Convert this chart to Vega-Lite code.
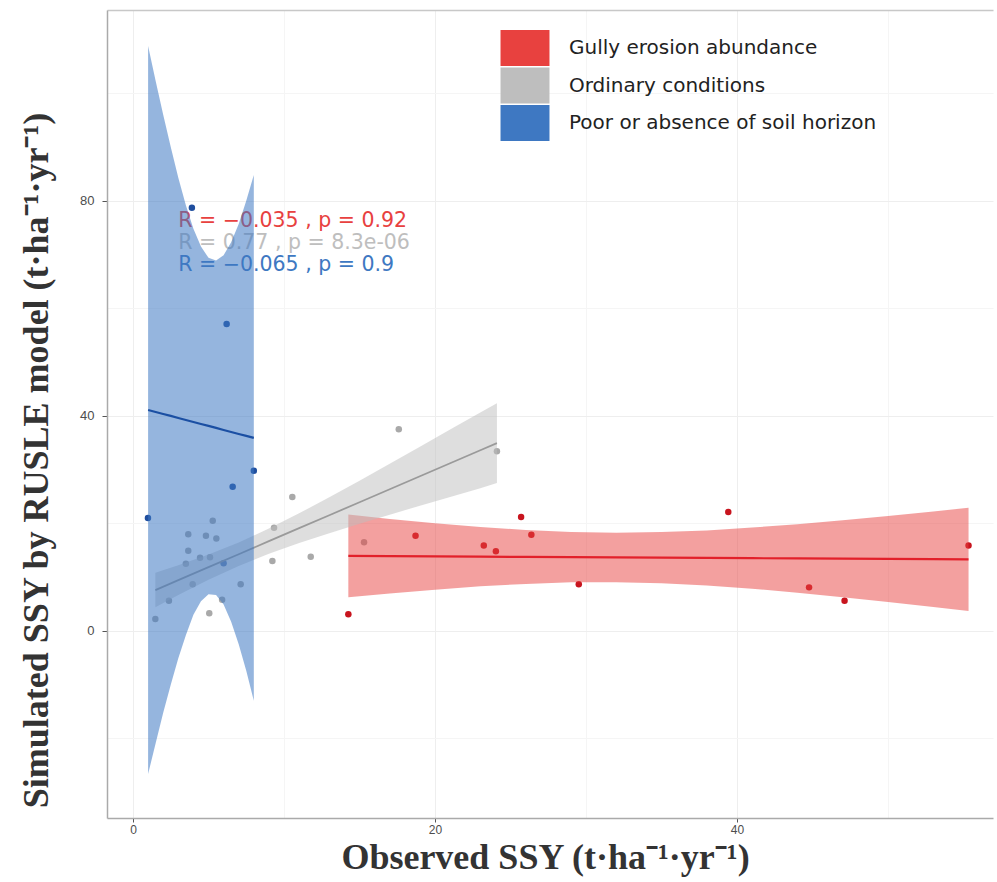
{
  "$schema": "https://vega.github.io/schema/vega-lite/v6.json",
  "width": 886,
  "height": 808,
  "autosize": {"type": "none"},
  "padding": {"left": 107, "top": 10, "right": 4, "bottom": 64},
  "background": "white",
  "config": {"view": {"stroke": null}, "font": "DejaVu Sans"},
  "datasets": {
    "points": [
      {"group": "Gully erosion abundance", "x": 14.26, "y": 3.1},
      {"group": "Gully erosion abundance", "x": 18.71, "y": 17.7},
      {"group": "Gully erosion abundance", "x": 25.7, "y": 21.2},
      {"group": "Gully erosion abundance", "x": 23.23, "y": 15.9},
      {"group": "Gully erosion abundance", "x": 24.03, "y": 14.8},
      {"group": "Gully erosion abundance", "x": 26.38, "y": 17.9},
      {"group": "Gully erosion abundance", "x": 29.52, "y": 8.7},
      {"group": "Gully erosion abundance", "x": 39.42, "y": 22.1},
      {"group": "Gully erosion abundance", "x": 44.77, "y": 8.1},
      {"group": "Gully erosion abundance", "x": 47.12, "y": 5.6},
      {"group": "Gully erosion abundance", "x": 55.33, "y": 15.9},
      {"group": "Ordinary conditions", "x": 17.6, "y": 37.5},
      {"group": "Ordinary conditions", "x": 24.1, "y": 33.4},
      {"group": "Ordinary conditions", "x": 10.55, "y": 24.9},
      {"group": "Ordinary conditions", "x": 9.34, "y": 19.2},
      {"group": "Ordinary conditions", "x": 9.23, "y": 13.0},
      {"group": "Ordinary conditions", "x": 11.77, "y": 13.8},
      {"group": "Ordinary conditions", "x": 15.3, "y": 16.5},
      {"group": "Ordinary conditions", "x": 5.28, "y": 20.5},
      {"group": "Ordinary conditions", "x": 3.66, "y": 18.0},
      {"group": "Ordinary conditions", "x": 4.83, "y": 17.7},
      {"group": "Ordinary conditions", "x": 5.52, "y": 17.2},
      {"group": "Ordinary conditions", "x": 3.66, "y": 14.9},
      {"group": "Ordinary conditions", "x": 4.44, "y": 13.6},
      {"group": "Ordinary conditions", "x": 5.1, "y": 13.7},
      {"group": "Ordinary conditions", "x": 3.5, "y": 12.5},
      {"group": "Ordinary conditions", "x": 3.95, "y": 8.7},
      {"group": "Ordinary conditions", "x": 7.13, "y": 8.7},
      {"group": "Ordinary conditions", "x": 2.38, "y": 5.6},
      {"group": "Ordinary conditions", "x": 1.48, "y": 2.2},
      {"group": "Ordinary conditions", "x": 5.05, "y": 3.3},
      {"group": "Ordinary conditions", "x": 5.9, "y": 5.8},
      {"group": "Poor or absence of soil horizon", "x": 0.99, "y": 21.0},
      {"group": "Poor or absence of soil horizon", "x": 3.9, "y": 78.7},
      {"group": "Poor or absence of soil horizon", "x": 6.2, "y": 57.1},
      {"group": "Poor or absence of soil horizon", "x": 6.6, "y": 26.8},
      {"group": "Poor or absence of soil horizon", "x": 8.0, "y": 29.8},
      {"group": "Poor or absence of soil horizon", "x": 6.0, "y": 12.6}
    ],
    "bands": [
      {"group": "Gully erosion abundance", "x": 14.26, "fit": 13.95, "lo": 6.26, "hi": 21.64},
      {"group": "Gully erosion abundance", "x": 17, "fit": 13.91, "lo": 6.98, "hi": 20.84},
      {"group": "Gully erosion abundance", "x": 20, "fit": 13.86, "lo": 7.68, "hi": 20.04},
      {"group": "Gully erosion abundance", "x": 23, "fit": 13.81, "lo": 8.29, "hi": 19.33},
      {"group": "Gully erosion abundance", "x": 26, "fit": 13.76, "lo": 8.75, "hi": 18.77},
      {"group": "Gully erosion abundance", "x": 29, "fit": 13.72, "lo": 9.03, "hi": 18.41},
      {"group": "Gully erosion abundance", "x": 32, "fit": 13.67, "lo": 9.07, "hi": 18.27},
      {"group": "Gully erosion abundance", "x": 35, "fit": 13.62, "lo": 8.86, "hi": 18.38},
      {"group": "Gully erosion abundance", "x": 38, "fit": 13.57, "lo": 8.44, "hi": 18.7},
      {"group": "Gully erosion abundance", "x": 41, "fit": 13.53, "lo": 7.84, "hi": 19.22},
      {"group": "Gully erosion abundance", "x": 44, "fit": 13.48, "lo": 7.11, "hi": 19.85},
      {"group": "Gully erosion abundance", "x": 47, "fit": 13.43, "lo": 6.28, "hi": 20.58},
      {"group": "Gully erosion abundance", "x": 50, "fit": 13.39, "lo": 5.4, "hi": 21.38},
      {"group": "Gully erosion abundance", "x": 53, "fit": 13.34, "lo": 4.45, "hi": 22.23},
      {"group": "Gully erosion abundance", "x": 55.33, "fit": 13.3, "lo": 3.69, "hi": 22.91},
      {"group": "Ordinary conditions", "x": 1.48, "fit": 7.6, "lo": 4.4, "hi": 10.8},
      {"group": "Ordinary conditions", "x": 3, "fit": 9.44, "lo": 6.68, "hi": 12.2},
      {"group": "Ordinary conditions", "x": 5, "fit": 11.86, "lo": 9.51, "hi": 14.21},
      {"group": "Ordinary conditions", "x": 7, "fit": 14.27, "lo": 12.07, "hi": 16.47},
      {"group": "Ordinary conditions", "x": 9, "fit": 16.69, "lo": 14.34, "hi": 19.04},
      {"group": "Ordinary conditions", "x": 11, "fit": 19.11, "lo": 16.35, "hi": 21.87},
      {"group": "Ordinary conditions", "x": 13, "fit": 21.52, "lo": 18.18, "hi": 24.86},
      {"group": "Ordinary conditions", "x": 15, "fit": 23.94, "lo": 19.94, "hi": 27.94},
      {"group": "Ordinary conditions", "x": 17, "fit": 26.35, "lo": 21.62, "hi": 31.08},
      {"group": "Ordinary conditions", "x": 19, "fit": 28.77, "lo": 23.29, "hi": 34.25},
      {"group": "Ordinary conditions", "x": 21, "fit": 31.19, "lo": 24.93, "hi": 37.45},
      {"group": "Ordinary conditions", "x": 23, "fit": 33.6, "lo": 26.55, "hi": 40.65},
      {"group": "Ordinary conditions", "x": 24.1, "fit": 34.93, "lo": 27.5, "hi": 42.36},
      {"group": "Poor or absence of soil horizon", "x": 1, "fit": 41.1, "lo": -26.6, "hi": 108.8},
      {"group": "Poor or absence of soil horizon", "x": 1.5, "fit": 40.73, "lo": -20.9, "hi": 102.3},
      {"group": "Poor or absence of soil horizon", "x": 2, "fit": 40.36, "lo": -15.2, "hi": 96.0},
      {"group": "Poor or absence of soil horizon", "x": 2.5, "fit": 39.99, "lo": -10.0, "hi": 90.0},
      {"group": "Poor or absence of soil horizon", "x": 3, "fit": 39.61, "lo": -5.1, "hi": 84.3},
      {"group": "Poor or absence of soil horizon", "x": 3.5, "fit": 39.24, "lo": -0.8, "hi": 79.2},
      {"group": "Poor or absence of soil horizon", "x": 4, "fit": 38.87, "lo": 3.0, "hi": 74.8},
      {"group": "Poor or absence of soil horizon", "x": 4.5, "fit": 38.5, "lo": 5.5, "hi": 71.5},
      {"group": "Poor or absence of soil horizon", "x": 5, "fit": 38.13, "lo": 6.8, "hi": 69.4},
      {"group": "Poor or absence of soil horizon", "x": 5.5, "fit": 37.76, "lo": 6.7, "hi": 68.9},
      {"group": "Poor or absence of soil horizon", "x": 6, "fit": 37.38, "lo": 4.9, "hi": 69.9},
      {"group": "Poor or absence of soil horizon", "x": 6.5, "fit": 37.01, "lo": 1.7, "hi": 72.3},
      {"group": "Poor or absence of soil horizon", "x": 7, "fit": 36.64, "lo": -2.5, "hi": 75.7},
      {"group": "Poor or absence of soil horizon", "x": 7.5, "fit": 36.27, "lo": -7.4, "hi": 80.0},
      {"group": "Poor or absence of soil horizon", "x": 8, "fit": 35.9, "lo": -13.0, "hi": 84.8}
    ],
    "labels": [
      {"group": "Gully erosion abundance", "x": 3.0, "y": 76.3, "label": "R = −0.035 , p = 0.92"},
      {"group": "Ordinary conditions", "x": 3.0, "y": 72.2, "label": "R = 0.77 , p = 8.3e-06"},
      {"group": "Poor or absence of soil horizon", "x": 3.0, "y": 68.1, "label": "R = −0.065 , p = 0.9"}
    ]
  },
  "resolve": {"axis": {"x": "independent", "y": "independent"}},
  "layer": [
    {
      "data": {"name": "points"},
      "mark": {"type": "point", "filled": true, "size": 42, "opacity": 1},
      "encoding": {
        "x": {
          "field": "x", "type": "quantitative",
          "scale": {"domain": [-1.722, 56.95], "nice": false, "zero": false},
          "axis": {
            "orient": "bottom", "values": [0, 20, 40],
            "title": "Observed SSY (t·ha⁻¹·yr⁻¹)", "titleX": 438,
            "titleFont": "Liberation Serif", "titleFontWeight": "bold", "titleFontSize": 36,
            "titleColor": "#333333", "titlePadding": 5,
            "labelFont": "Liberation Sans", "labelFontSize": 12, "labelColor": "#4D4D4D", "labelPadding": 2,
            "tickColor": "#555555", "tickSize": 4,
            "domainColor": "#AAAAAA", "domainWidth": 1.5,
            "grid": true, "gridColor": "#EEEEEE", "gridWidth": 1
          }
        },
        "y": {
          "field": "y", "type": "quantitative",
          "scale": {"domain": [-34.8, 115.5], "nice": false, "zero": false},
          "axis": {
            "orient": "left", "values": [0, 40, 80],
            "title": "Simulated SSY by RUSLE model (t·ha⁻¹·yr⁻¹)", "titleY": 450,
            "titleFont": "Liberation Serif", "titleFontWeight": "bold", "titleFontSize": 36,
            "titleColor": "#333333", "titlePadding": 24,
            "labelFont": "Liberation Sans", "labelFontSize": 13, "labelColor": "#4D4D4D", "labelPadding": 8,
            "tickColor": "#555555", "tickSize": 5,
            "domainColor": "#AAAAAA", "domainWidth": 1.5,
            "grid": true, "gridColor": "#EEEEEE", "gridWidth": 1
          }
        },
        "color": {
          "field": "group", "type": "nominal",
          "scale": {"range": ["#C8141E", "#A9A9A9", "#1F4E9E"]},
          "legend": null
        }
      }
    },
    {
      "data": {"name": "labels"},
      "mark": {"type": "text", "align": "left", "baseline": "middle", "font": "DejaVu Sans", "fontSize": 20.5},
      "encoding": {
        "x": {
          "field": "x", "type": "quantitative",
          "axis": {"orient": "top", "values": [10, 30, 50], "labels": false, "ticks": false, "title": null,
                   "domain": true, "domainColor": "#C8C8C8", "domainWidth": 1.5,
                   "grid": true, "gridColor": "#F5F5F5", "gridWidth": 1}
        },
        "y": {
          "field": "y", "type": "quantitative",
          "axis": {"orient": "right", "values": [-20, 20, 60, 100], "labels": false, "ticks": false, "title": null,
                   "domain": false, "grid": true, "gridColor": "#F5F5F5", "gridWidth": 1}
        },
        "text": {"field": "label", "type": "nominal"},
        "fill": {"field": "group", "type": "nominal"}
      }
    },
    {
      "data": {"name": "bands"},
      "transform": [{"filter": "datum.group === 'Gully erosion abundance'"}],
      "mark": {"type": "area", "opacity": 0.5},
      "encoding": {
        "x": {"field": "x", "type": "quantitative", "axis": null},
        "y": {"field": "lo", "type": "quantitative", "axis": null},
        "y2": {"field": "hi"},
        "fill": {
          "field": "group", "type": "nominal",
          "scale": {"domain": ["Gully erosion abundance", "Ordinary conditions", "Poor or absence of soil horizon"], "range": ["#E8413F", "#BEBEBE", "#3E78C2"]},
          "legend": {
            "orient": "none", "legendX": 400, "legendY": 20, "title": null,
            "symbolType": "M-1.36,-1L1.36,-1L1.36,1L-1.36,1Z", "symbolSize": 1296,
            "symbolOpacity": 1, "symbolStrokeWidth": 0,
            "labelFont": "DejaVu Sans", "labelFontSize": 20, "labelColor": "#222222", "labelLimit": 0,
            "labelOffset": 26, "rowPadding": 1.5, "padding": 0,
            "encode": {"symbols": {"update": {"opacity": {"value": 1}, "fillOpacity": {"value": 1}}}}
          }
        }
      }
    },
    {
      "data": {"name": "bands"},
      "transform": [{"filter": "datum.group === 'Gully erosion abundance'"}],
      "mark": {"type": "line", "strokeWidth": 2.2},
      "encoding": {
        "x": {"field": "x", "type": "quantitative", "axis": null},
        "y": {"field": "fit", "type": "quantitative", "axis": null},
        "stroke": {
          "field": "group", "type": "nominal",
          "scale": {"range": ["#E2202A", "#9A9A9A", "#1B4FA3"]},
          "legend": null
        }
      }
    },
    {
      "data": {"name": "bands"},
      "transform": [{"filter": "datum.group === 'Ordinary conditions'"}],
      "mark": {"type": "area", "opacity": 0.5},
      "encoding": {
        "x": {"field": "x", "type": "quantitative", "axis": null},
        "y": {"field": "lo", "type": "quantitative", "axis": null},
        "y2": {"field": "hi"},
        "fill": {"field": "group", "type": "nominal"}
      }
    },
    {
      "data": {"name": "bands"},
      "transform": [{"filter": "datum.group === 'Ordinary conditions'"}],
      "mark": {"type": "line", "strokeWidth": 1.8},
      "encoding": {
        "x": {"field": "x", "type": "quantitative", "axis": null},
        "y": {"field": "fit", "type": "quantitative", "axis": null},
        "stroke": {"field": "group", "type": "nominal", "legend": null}
      }
    },
    {
      "data": {"name": "bands"},
      "transform": [{"filter": "datum.group === 'Poor or absence of soil horizon'"}],
      "mark": {"type": "area", "opacity": 0.55},
      "encoding": {
        "x": {"field": "x", "type": "quantitative", "axis": null},
        "y": {"field": "lo", "type": "quantitative", "axis": null},
        "y2": {"field": "hi"},
        "fill": {"field": "group", "type": "nominal"}
      }
    },
    {
      "data": {"name": "bands"},
      "transform": [{"filter": "datum.group === 'Poor or absence of soil horizon'"}],
      "mark": {"type": "line", "strokeWidth": 2.2},
      "encoding": {
        "x": {"field": "x", "type": "quantitative", "axis": null},
        "y": {"field": "fit", "type": "quantitative", "axis": null},
        "stroke": {"field": "group", "type": "nominal", "legend": null}
      }
    }
  ]
}
